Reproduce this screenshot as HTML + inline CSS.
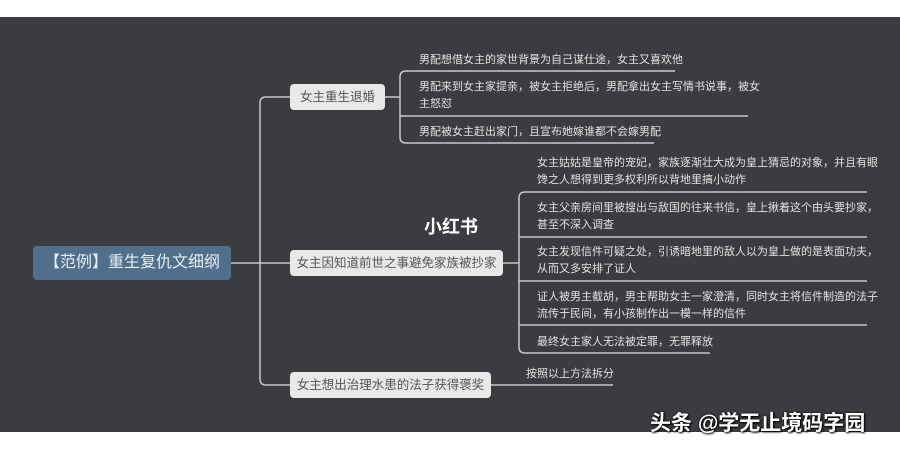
<!DOCTYPE html>
<html><head><meta charset="utf-8"><style>
body{margin:0;width:900px;height:450px;background:#fff;position:relative;overflow:hidden;font-family:"Liberation Sans","Noto Sans CJK SC",sans-serif}
.bg{position:absolute;left:0;top:17px;width:900px;height:415px;background:#3b3c40}
.t{position:absolute;color:#e2e2e2;font-size:11px;line-height:17px;white-space:nowrap}
.n{position:absolute;background:#e8e8e8;color:#555;font-size:12.5px;border-radius:4px;text-align:center;line-height:26px;height:26px;white-space:nowrap}
</style></head><body>
<div class="bg"></div>
<svg width="900" height="450" style="position:absolute;left:0;top:0" fill="none" stroke="#c8c8c8" stroke-width="1.5">
<path d="M231 263H290"/>
<path d="M290 97H266Q260 97 260 103V379Q260 385 266 385H290"/>
<path d="M385 97H400"/>
<path d="M675 71H406Q400 71 400 77V137Q400 143 406 143H654"/>
<path d="M400 116H748"/>
<path d="M503 263H519"/>
<path d="M867 192H525Q519 192 519 198V347Q519 353 525 353H710"/>
<path d="M519 237H867M519 281H867M519 325H867"/>
<path d="M491 385H613"/>
</svg>
<div style="position:absolute;left:33px;top:246px;width:198px;height:34px;background:#4f6f8a;border-radius:4px;color:#e8eef3;font-size:16px;line-height:34px;text-align:center">【范例】重生复仇文细纲</div>
<div class="n" style="left:290px;top:84px;width:95px">女主重生退婚</div>
<div class="n" style="left:290px;top:250px;width:213px">女主因知道前世之事避免家族被抄家</div>
<div class="n" style="left:290px;top:372px;width:201px">女主想出治理水患的法子获得褒奖</div>
<div class="t" style="left:419px;top:52px">男配想借女主的家世背景为自己谋仕途，女主又喜欢他</div>
<div class="t" style="left:419px;top:79px">男配来到女主家提亲，被女主拒绝后，男配拿出女主写情书说事，被女<br>主怒怼</div>
<div class="t" style="left:419px;top:124px">男配被女主赶出家门，且宣布她嫁谁都不会嫁男配</div>
<div class="t" style="left:537px;top:155px">女主姑姑是皇帝的宠妃，家族逐渐壮大成为皇上猜忌的对象，并且有眼<br>馋之人想得到更多权利所以背地里搞小动作</div>
<div class="t" style="left:537px;top:200px">女主父亲房间里被搜出与敌国的往来书信，皇上揪着这个由头要抄家，<br>甚至不深入调查</div>
<div class="t" style="left:537px;top:244px">女主发现信件可疑之处，引诱暗地里的敌人以为皇上做的是表面功夫，<br>从而又多安排了证人</div>
<div class="t" style="left:537px;top:289px">证人被男主截胡，男主帮助女主一家澄清，同时女主将信件制造的法子<br>流传于民间，有小孩制作出一模一样的信件</div>
<div class="t" style="left:537px;top:334px">最终女主家人无法被定罪，无罪释放</div>
<div class="t" style="left:526px;top:366px">按照以上方法拆分</div>
<div style="position:absolute;left:424px;top:213px;color:#fff;font-weight:bold;font-size:18px">小红书</div>
<div style="position:absolute;left:650px;top:410px;color:#fff;font-size:21px;font-weight:bold;line-height:28px;text-shadow:0 0 2px #000,1px 1px 2px #000;white-space:nowrap">头条 @学无止境码字园</div>
</body></html>
